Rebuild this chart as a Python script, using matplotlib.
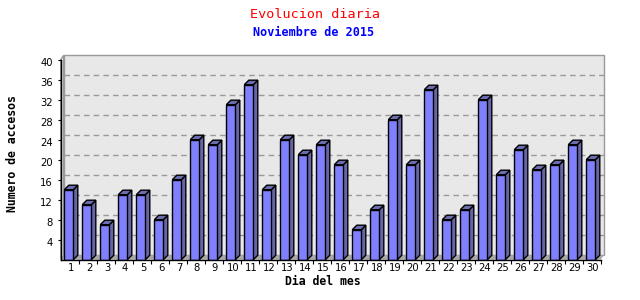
import matplotlib
matplotlib.use("Agg")
import matplotlib.pyplot as plt
from matplotlib.patches import Polygon
from matplotlib.transforms import ScaledTranslation
import numpy as np

plt.rcParams['lines.scale_dashes'] = False

days = list(range(1, 31))
day_labels = [str(d) for d in days]
visits = [14, 11, 7, 13, 13, 8, 16, 24, 23, 31, 35, 14, 24, 21, 23,
          19, 6, 10, 28, 19, 34, 8, 10, 32, 17, 22, 18, 19, 23, 20]
y_ticks = [4, 8, 12, 16, 20, 24, 28, 32, 36, 40]

title = "Evolucion diaria"
subtitle = "Noviembre de 2015"
xlabel = "Dia del mes"
ylabel = "Numero de accesos"

W, H, DPI = 640, 300, 100
fig = plt.figure(figsize=(W / DPI, H / DPI), dpi=DPI)
fig.patch.set_facecolor("white")

ax_l, ax_r, ax_b, ax_t = 60.7, 600.7, 259.7, 59.7
ax = fig.add_axes([ax_l / W, 1 - ax_b / H, (ax_r - ax_l) / W, (ax_b - ax_t) / H])
ax.set_xlim(0.5, 30.5)
ax.set_ylim(0, 40)
ax.patch.set_visible(False)

pxx = (ax_r - ax_l) / 30.0   # px per category
pxy = (ax_b - ax_t) / 40.0   # px per unit

# offsets (px) -> data units
wdx, wdy = 3.0 / pxx, 4.4 / pxy      # wall depth
bdx, bdy = 4.5 / pxx, 4.5 / pxy      # bar depth

x0, x1 = 0.5, 30.5
wall_c = "#E8E8E8"
edge_c = "#999999"

# back wall
ax.add_patch(Polygon([(x0 + wdx, wdy), (x1 + wdx, wdy), (x1 + wdx, 40 + wdy), (x0 + wdx, 40 + wdy)],
                     closed=True, facecolor=wall_c, edgecolor=edge_c, lw=1.0, zorder=0.5, clip_on=False))
# left side wall
ax.add_patch(Polygon([(x0, 0), (x0 + wdx, wdy), (x0 + wdx, 40 + wdy), (x0, 40)],
                     closed=True, facecolor="#DCDCDC", edgecolor=edge_c, lw=1.0, zorder=0.6, clip_on=False))

# grid lines on the wall
for yv in y_ticks[:-1]:
    ax.plot([x0 + wdx, x1 + wdx], [yv + wdy, yv + wdy], color="#999999", lw=1.0,
            linestyle=(0, (4.0, 3.0)), zorder=0.8, clip_on=False)

# floor
ax.add_patch(Polygon([(x0, 0), (x1, 0), (x1 + wdx, wdy), (x0 + wdx, wdy)],
                     closed=True, facecolor="#A8A8A8", edgecolor="none", zorder=0.9, clip_on=False))

front_c = "#8080FF"
side_c = "#6666A6"
top_c = "#6C6CB0"
bw = 0.5
lefts = [d - 0.3 for d in days]
ax.bar(lefts, visits, width=bw, align="edge", color=front_c, edgecolor="black", lw=1.0, zorder=3)
for l, v in zip(lefts, visits):
    r = l + bw
    ax.add_patch(Polygon([(r, 0), (r, v), (r + bdx, v + bdy), (r + bdx, bdy)], closed=True,
                         facecolor=side_c, edgecolor="black", lw=1.0, zorder=2.9, clip_on=False))
    ax.add_patch(Polygon([(l, v), (r, v), (r + bdx, v + bdy), (l + bdx, v + bdy)], closed=True,
                         facecolor=top_c, edgecolor="black", lw=1.0, zorder=2.9, clip_on=False))

# spines
for s in ["top", "right"]:
    ax.spines[s].set_visible(False)
for s in ["left", "bottom"]:
    ax.spines[s].set_color("black")
    ax.spines[s].set_linewidth(1.0)
    ax.spines[s].set_zorder(4)

# x ticks: marks at boundaries, labels at centers
ax.set_xticks([d + 0.5 for d in days])
ax.set_xticklabels([])
ax.set_xticks(days, minor=True)
ax.set_xticklabels(day_labels, minor=True, fontsize=7.2, family="DejaVu Sans")
ax.tick_params(axis="x", which="major", length=3.0, width=0.8, direction="out")
ax.tick_params(axis="x", which="minor", length=0, pad=2.6)

ax.set_yticks(y_ticks)
ax.set_yticklabels([str(t) for t in y_ticks], fontsize=7.2, family="DejaVu Sans")
ax.tick_params(axis="y", which="major", length=2.5, width=0.8, direction="out", pad=3.0)

for lab in ax.get_xticklabels(minor=True):
    lab.set_transform(lab.get_transform() + ScaledTranslation(1.3 / DPI, 0, fig.dpi_scale_trans))
for lab in ax.get_yticklabels():
    lab.set_transform(lab.get_transform() + ScaledTranslation(0, -2.8 / DPI, fig.dpi_scale_trans))

mono = "DejaVu Sans Mono"
fig.text(315 / W, 1 - 14 / H, title, color="#FF0000", fontsize=9.7, family=mono,
         ha="center", va="center")
fig.text(314 / W, 1 - 32 / H, subtitle, color="#0000FF", fontsize=8.5, family=mono,
         fontweight="bold", ha="center", va="center")
fig.text(322.5 / W, 1 - 281.7 / H, xlabel, color="black", fontsize=8.3, family=mono,
         fontweight="bold", ha="center", va="center")
fig.text(12.5 / W, 1 - 153.5 / H, ylabel, color="black", fontsize=8.3, family=mono,
         fontweight="bold", ha="center", va="center", rotation=90)

fig.savefig("out.png", dpi=DPI, facecolor="white")
